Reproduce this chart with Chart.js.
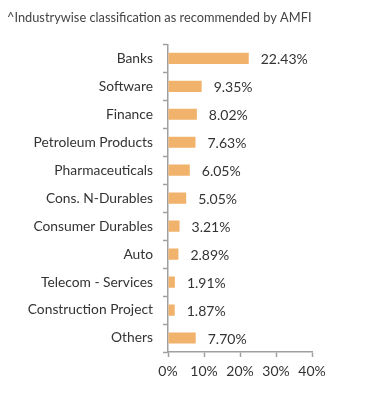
<!DOCTYPE html>
<html>
<head>
<meta charset="utf-8">
<script src="https://cdn.jsdelivr.net/npm/chart.js@4/dist/chart.umd.min.js"></script>
<style>
html,body{margin:0;padding:0;background:#fff;}
#wrap{width:391px;height:405px;position:relative;}
</style>
</head>
<body>
<div id="wrap"><canvas id="c" width="391" height="405"></canvas></div>
<script>
const categories = ["Banks","Software","Finance","Petroleum Products","Pharmaceuticals","Cons. N-Durables","Consumer Durables","Auto","Telecom - Services","Construction Project","Others"];
const values = [22.43, 9.35, 8.02, 7.63, 6.05, 5.05, 3.21, 2.89, 1.91, 1.87, 7.70];
const xTicks = [0, 10, 20, 30, 40];
const titleText = "^Industrywise classification as recommended by AMFI";

const FONT = "Lato";
const valueLabels = {
  id: 'valueLabels',
  afterDatasetsDraw(chart) {
    const ctx = chart.ctx;
    const meta = chart.getDatasetMeta(0);
    ctx.save();
    ctx.font = "14px " + FONT;
    ctx.fillStyle = "#333";
    ctx.textAlign = "left";
    ctx.textBaseline = "middle";
    meta.data.forEach((el, i) => {
      ctx.fillText(values[i].toFixed(2) + "%", el.x + 12, el.y + 1);
    });
    ctx.restore();
  }
};

new Chart(document.getElementById('c'), {
  type: 'bar',
  data: {
    labels: categories,
    datasets: [{
      data: values,
      backgroundColor: '#F1B26B',
      borderWidth: 0,
      barPercentage: 0.4,
      categoryPercentage: 1.0
    }]
  },
  options: {
    indexAxis: 'y',
    responsive: false,
    animation: false,
    devicePixelRatio: 1,
    layout: { padding: { top: 10, right: 79, bottom: 0, left: 7 } },
    plugins: {
      legend: { display: false },
      tooltip: { enabled: false },
      title: {
        display: true,
        text: titleText,
        align: 'start',
        color: '#444',
        font: { family: FONT, size: 12.8, weight: 'normal' },
        padding: { top: 0, bottom: 19 }
      }
    },
    scales: {
      x: {
        min: 0, max: 40,
        afterFit(scale) { scale.height = 53; },
        afterBuildTicks(scale) { scale.ticks = xTicks.map(v => ({ value: v })); },
        ticks: {
          color: '#333',
          font: { family: FONT, size: 14 },
          padding: 6,
          callback: v => v + '%'
        },
        grid: { drawOnChartArea: false, color: '#A0A0A0', tickLength: 5, tickWidth: 1.5 },
        border: { color: '#A0A0A0', width: 1.5 }
      },
      y: {
        afterFit(scale) { scale.width = 161; },
        ticks: {
          color: '#333',
          font: { family: FONT, size: 13.8 },
          padding: 10
        },
        grid: { drawOnChartArea: false, offset: true, color: '#A0A0A0', tickLength: 5, tickWidth: 1.5 },
        border: { color: '#A0A0A0', width: 1.5 }
      }
    }
  },
  plugins: [valueLabels]
});
</script>
</body>
</html>
